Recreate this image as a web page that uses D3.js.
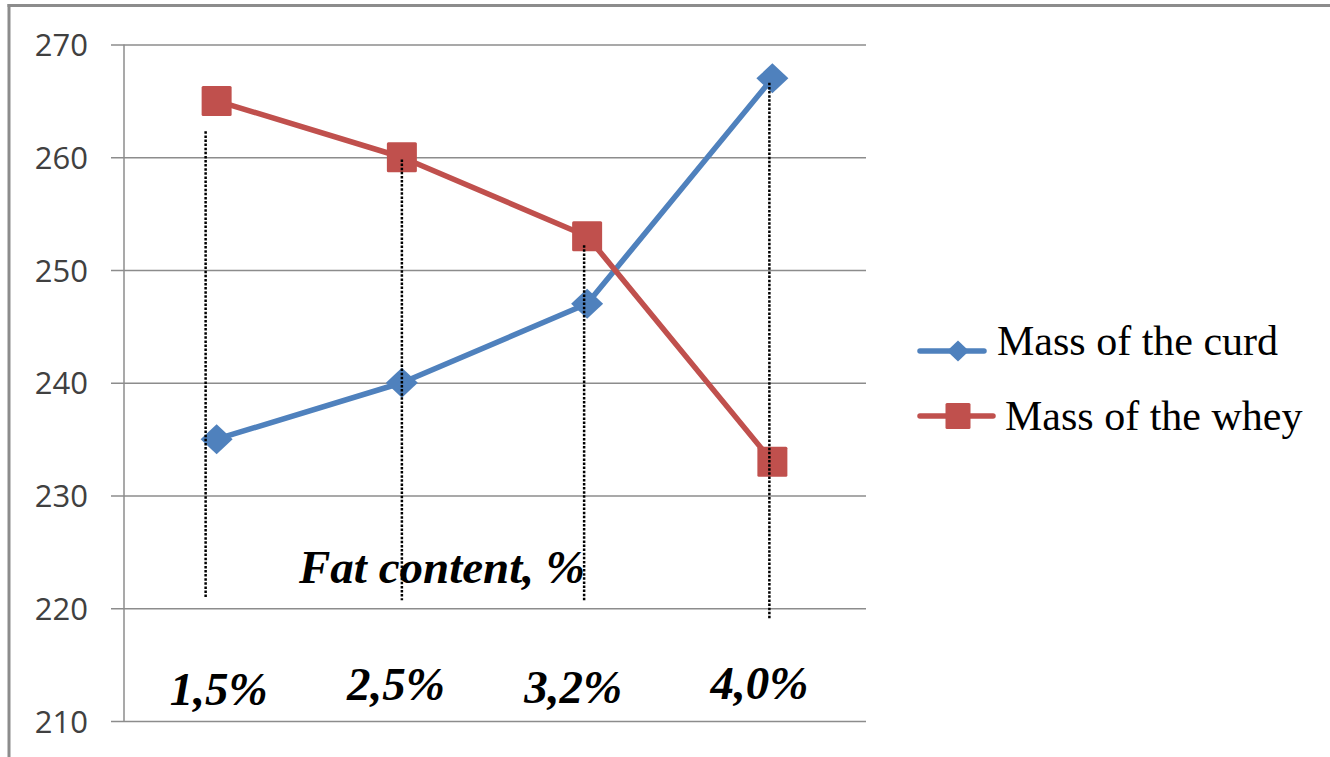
<!DOCTYPE html>
<html>
<head>
<meta charset="utf-8">
<script src="https://cdn.jsdelivr.net/npm/d3@7"></script>
<style>
  html, body { margin: 0; padding: 0; background: #fff; }
  svg { display: block; }
</style>
</head>
<body>
<svg id="chart" width="1330" height="757"></svg>
<script>
// ---- data ----
const categories = ["1,5%", "2,5%", "3,2%", "4,0%"];
const curdMass = [235, 240, 247, 267];
const wheyMass = [265, 260, 253, 233];
const seriesNames = ["Mass of the curd", "Mass of the whey"];
const yTicks = [210, 220, 230, 240, 250, 260, 270];
const axisTitle = "Fat content, %";
// dotted drop lines: upper and lower ends, in axis units
const dropTop = [262.3, 259.8, 252.2, 266.6];
const dropBottom = [220.9, 220.7, 220.7, 219.1];

// ---- layout ----
const W = 1330, H = 757;
const plot = { left: 124, right: 865, top: 44.5, bottom: 721 };
const gridStart = 111;
const blue = "#4f81bd", red = "#c0504d", gridColor = "#8c8c8c";
const dropNudge = [-11, 0, -3, -3];      // hand-placed drop lines
const labelNudge = [2, -6, -14, -13];    // hand-placed category labels
const labelBase = [705, 700, 703, 699];

const svg = d3.select("#chart");
svg.append("rect").attr("width", W).attr("height", H).attr("fill", "#fff");

// frame edges (top and left)
svg.append("line").attr("x1", 7.5).attr("x2", W).attr("y1", 5.5).attr("y2", 5.5)
  .attr("stroke", gridColor).attr("stroke-width", 3);
svg.append("line").attr("x1", 9).attr("x2", 9).attr("y1", 4).attr("y2", H)
  .attr("stroke", gridColor).attr("stroke-width", 3);

const x = d3.scaleBand().domain(categories).range([plot.left, plot.right]);
const bw = x.bandwidth();
const cx = c => x(c) + bw / 2;
const y = d3.scaleLinear().domain([210, 270]).range([plot.bottom, plot.top]);

// gridlines + value labels
const yAxis = d3.axisLeft(y)
  .tickValues(yTicks)
  .tickSize(-(866 - gridStart))
  .tickPadding(23)
  .tickFormat(d3.format("d"));
const gy = svg.append("g").attr("transform", `translate(${gridStart},0)`).call(yAxis);
gy.select(".domain").remove();
gy.selectAll(".tick line").attr("stroke", gridColor).attr("stroke-width", 1.5);
gy.selectAll(".tick text")
  .attr("font-family", "'Open Sans', 'Liberation Sans', sans-serif")
  .attr("font-size", 31)
  .attr("fill", "#404040")
  .attr("dy", "0.36em");

// vertical value axis line
svg.append("line")
  .attr("x1", plot.left).attr("x2", plot.left)
  .attr("y1", y(270)).attr("y2", y(210))
  .attr("stroke", gridColor).attr("stroke-width", 1.5);

// series lines
const line = d3.line().x((d, i) => cx(categories[i])).y(d => y(d));
svg.append("path").datum(curdMass).attr("d", line)
  .attr("fill", "none").attr("stroke", blue).attr("stroke-width", 5.5).attr("stroke-linejoin", "round");
svg.append("path").datum(wheyMass).attr("d", line)
  .attr("fill", "none").attr("stroke", red).attr("stroke-width", 5.5).attr("stroke-linejoin", "round");

// markers
const diamond = (w, h) => `M0,${-h}L${w},0L0,${h}L${-w},0Z`;
svg.append("g").selectAll("path").data(curdMass).join("path")
  .attr("transform", (d, i) => `translate(${cx(categories[i])},${y(d)})`)
  .attr("d", diamond(16, 15))
  .attr("fill", blue);
svg.append("g").selectAll("rect").data(wheyMass).join("rect")
  .attr("x", (d, i) => cx(categories[i]) - 15)
  .attr("y", d => y(d) - 15)
  .attr("width", 30).attr("height", 30).attr("rx", 1.5)
  .attr("fill", red);

// dotted drop lines
svg.append("g").selectAll("line").data(categories).join("line")
  .attr("x1", (c, i) => cx(c) + dropNudge[i])
  .attr("x2", (c, i) => cx(c) + dropNudge[i])
  .attr("y1", (c, i) => y(dropTop[i]))
  .attr("y2", (c, i) => y(dropBottom[i]))
  .attr("stroke", "#000").attr("stroke-width", 2.5).attr("stroke-dasharray", "2.5,1.6");

// axis title
svg.append("text").text(axisTitle)
  .attr("x", 299).attr("y", 583)
  .attr("font-family", "'Liberation Serif', 'Times New Roman', serif")
  .attr("font-weight", "bold").attr("font-style", "italic")
  .attr("font-size", 47).attr("fill", "#000");

// category labels
svg.append("g").selectAll("text").data(categories).join("text")
  .text(d => d)
  .attr("x", (c, i) => cx(c) + labelNudge[i])
  .attr("y", (c, i) => labelBase[i])
  .attr("text-anchor", "middle")
  .attr("font-family", "'Liberation Serif', 'Times New Roman', serif")
  .attr("font-weight", "bold").attr("font-style", "italic")
  .attr("font-size", 47).attr("fill", "#000");

// legend
const legend = [
  { name: seriesNames[0], color: blue, y: 351, x2: 984, tx: 997, base: 355, marker: "diamond" },
  { name: seriesNames[1], color: red, y: 416, x2: 993, tx: 1005, base: 430, marker: "square" }
];
const lg = svg.append("g").selectAll("g").data(legend).join("g");
lg.append("line")
  .attr("x1", 920).attr("x2", d => d.x2)
  .attr("y1", d => d.y).attr("y2", d => d.y)
  .attr("stroke", d => d.color).attr("stroke-width", 5.5).attr("stroke-linecap", "round");
lg.filter(d => d.marker === "diamond").append("path")
  .attr("transform", d => `translate(958,${d.y})`)
  .attr("d", diamond(11, 10.5))
  .attr("fill", d => d.color);
lg.filter(d => d.marker === "square").append("rect")
  .attr("x", 958 - 12.5).attr("y", d => d.y - 13)
  .attr("width", 25).attr("height", 26).attr("rx", 1.5)
  .attr("fill", d => d.color);
lg.append("text").text(d => d.name)
  .attr("x", d => d.tx).attr("y", d => d.base)
  .attr("font-family", "'Liberation Serif', 'Times New Roman', serif")
  .attr("font-size", 42).attr("fill", "#000");
</script>
</body>
</html>
